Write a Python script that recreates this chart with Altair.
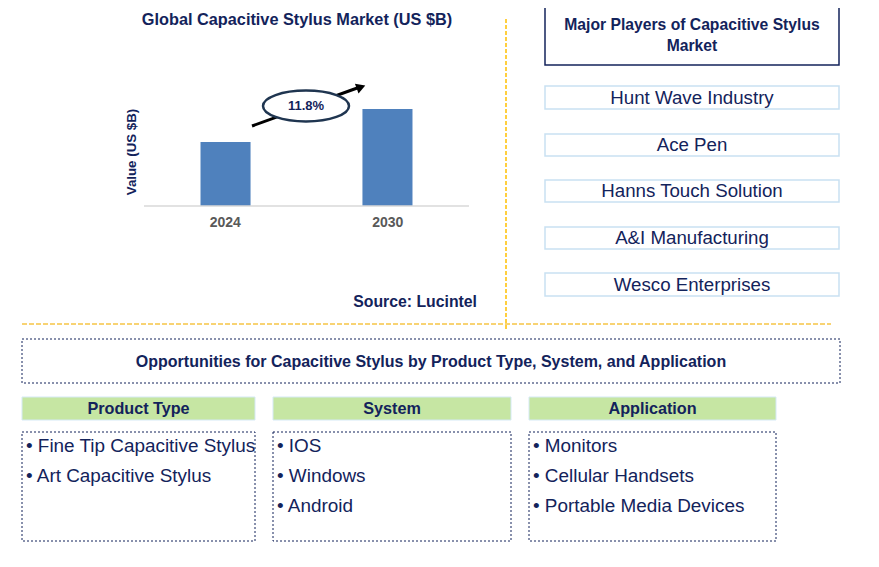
import altair as alt
import pandas as pd

# ---------------- data ----------------
years = ["2024", "2030"]
market_values = [0.64, 0.97]
cagr_label = ["11.8%"]
chart_title = ["Global Capacitive Stylus Market (US $B)"]
y_title = ["Value (US $B)"]
source_note = ["Source: Lucintel"]
players_title = ["Major Players of Capacitive Stylus", "Market"]
players = ["Hunt Wave Industry", "Ace Pen", "Hanns Touch Solution", "A&I Manufacturing", "Wesco Enterprises"]
opp_title = ["Opportunities for Capacitive Stylus by Product Type, System, and Application"]
segment_titles = ["Product Type", "System", "Application"]
product_types = ["Fine Tip Capacitive Stylus", "Art Capacitive Stylus"]
systems = ["IOS", "Windows", "Android"]
applications = ["Monitors", "Cellular Handsets", "Portable Media Devices"]

# ---------------- layout ----------------
OFF = 8
W, H = 863, 551
NAVY = "#13235b"
FONT = "Liberation Sans"


def P(v):
    return v - OFF


def text_layer(xs, ys, texts, size, weight="normal", color=NAVY, align="center", angle=0):
    df = pd.DataFrame({"x": [P(v) for v in xs], "y": [P(v) for v in ys], "t": texts})
    return alt.Chart(df).mark_text(
        font=FONT, fontSize=size, fontWeight=weight, color=color,
        align=align, baseline="middle", angle=angle
    ).encode(
        x=alt.X("x:Q", scale=None), y=alt.Y("y:Q", scale=None), text="t:N"
    )


def rect_layer(x0s, x1s, y0s, y1s, **style):
    df = pd.DataFrame({
        "x": [P(v) for v in x0s], "x2": [P(v) for v in x1s],
        "y": [P(v) for v in y0s], "y2": [P(v) for v in y1s],
    })
    return alt.Chart(df).mark_rect(**style).encode(
        x=alt.X("x:Q", scale=None), x2="x2:Q",
        y=alt.Y("y:Q", scale=None), y2="y2:Q",
    )


def line(x0, y0, x1, y1, **style):
    return alt.Chart(pd.DataFrame({"a": [0]})).mark_rule(**style).encode(
        x=alt.value(P(x0)), y=alt.value(P(y0)), x2=alt.value(P(x1)), y2=alt.value(P(y1))
    )


layers = []

# title and axis title
layers.append(text_layer([297], [20], chart_title, 16.3, "bold"))
layers.append(text_layer([132], [152], y_title, 13.3, "bold", angle=270))

# bars
bar_df = pd.DataFrame({"year": years, "value": market_values})
xscale = alt.Scale(domain=years, range=[P(144), P(469)], paddingInner=0.691, paddingOuter=0.349)
yscale = alt.Scale(domain=[0, 1], range=[P(206), P(106)])
bars = alt.Chart(bar_df).mark_bar(color="#4f81bd").encode(
    x=alt.X("year:N", scale=xscale, axis=None),
    y=alt.Y("value:Q", scale=yscale, axis=None),
)
year_labels = alt.Chart(bar_df).mark_text(
    font=FONT, fontSize=14, fontWeight="bold", color="#595959", baseline="middle"
).encode(
    x=alt.X("year:N", scale=xscale, axis=None),
    y=alt.value(P(223)),
    text="year:N",
)
layers.append(bars)
layers.append(line(144, 206, 469, 206, color="#d9d9d9", strokeWidth=1.5))
layers.append(year_labels)

# growth arrow + ellipse
layers.append(line(252, 126, 360, 87, color="black", strokeWidth=3))
layers.append(
    alt.Chart(pd.DataFrame({"a": [0]})).mark_point(
        shape="triangle-up", filled=True, color="black", opacity=1, size=110, angle=70
    ).encode(x=alt.value(P(361)), y=alt.value(P(87)))
)
ELLIPSE = ("M-1,0 C-1,-0.1988 -0.5523,-0.36 0,-0.36 C0.5523,-0.36 1,-0.1988 1,0 "
           "C1,0.1988 0.5523,0.36 0,0.36 C-0.5523,0.36 -1,0.1988 -1,0 Z")
layers.append(
    alt.Chart(pd.DataFrame({"a": [0]})).mark_point(
        shape=ELLIPSE, filled=True, fill="white", stroke="#1f3550", strokeWidth=2.5,
        opacity=1, fillOpacity=1, strokeOpacity=1, size=86 * 86
    ).encode(x=alt.value(P(306)), y=alt.value(P(106)))
)
layers.append(text_layer([306], [106], cagr_label, 13, "bold"))

# source
layers.append(text_layer([477], [302], source_note, 15.8, "bold", align="right"))

# separators
layers.append(line(506, 19, 506, 330, color="#ffc000", strokeWidth=1.5, strokeDash=[4, 2]))
layers.append(line(22, 324, 831, 324, color="#f8d373", strokeWidth=2, strokeDash=[5, 2]))

# major players
layers.append(rect_layer([545], [839], [7], [65], fill="white", stroke=NAVY, strokeWidth=1.5))
layers.append(text_layer([692, 692], [25, 46], players_title, 15.7, "bold"))
p_top = [86, 134, 180, 227, 273]
p_bot = [109, 156, 202, 249, 296]
layers.append(rect_layer([545] * 5, [839] * 5, p_top, p_bot,
                         fill="white", stroke="#c9e1f2", strokeWidth=1.5))
layers.append(text_layer([692] * 5, [(a + b) / 2 for a, b in zip(p_top, p_bot)], players, 18.7))

# opportunities
layers.append(rect_layer([22], [840], [339], [383], fill="white", stroke=NAVY,
                         strokeWidth=1, strokeDash=[2, 2]))
layers.append(text_layer([431], [362], opp_title, 16, "bold"))

col_x0 = [22, 273, 529]
col_x1 = [255, 511, 776]
layers.append(rect_layer(col_x0, col_x1, [397] * 3, [420] * 3, fill="#c6e6a3",
                         stroke="#d5e9f5", strokeWidth=1))
layers.append(text_layer([(a + b) / 2 for a, b in zip(col_x0, col_x1)], [409] * 3,
                         segment_titles, 16.2, "bold"))
layers.append(rect_layer(col_x0, col_x1, [432] * 3, [541] * 3, fill="white", stroke=NAVY,
                         strokeWidth=1, strokeDash=[2, 2]))

line_y = [446, 476, 506]
for x0, items in zip(col_x0, [product_types, systems, applications]):
    layers.append(text_layer([x0 + 4] * len(items), line_y[:len(items)],
                             ["\u2022 " + s for s in items], 18.9, align="left"))

chart = alt.layer(*layers).resolve_scale(
    x="independent", y="independent"
).properties(
    width=W, height=H, padding=0, autosize=alt.AutoSizeParams(type="none")
).configure_view(stroke=None)

chart.save("out.html", embed_options={"renderer": "svg", "actions": False})
